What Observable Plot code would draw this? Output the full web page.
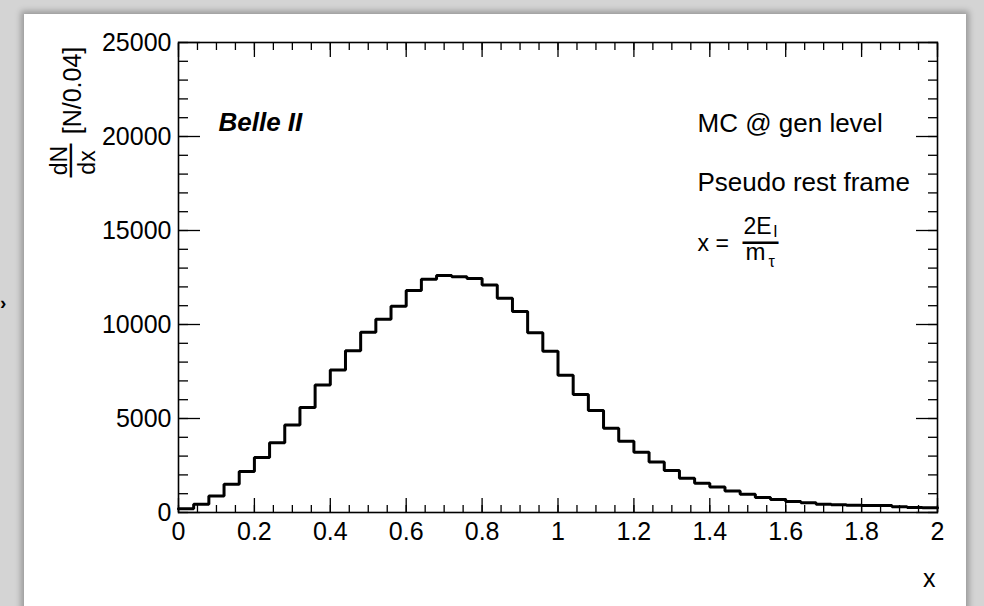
<!DOCTYPE html>
<html>
<head>
<meta charset="utf-8">
<script src="https://cdn.jsdelivr.net/npm/d3@7"></script>
<script src="https://cdn.jsdelivr.net/npm/@observablehq/plot@0.6"></script>
<style>
  html, body { margin: 0; padding: 0; width: 984px; height: 606px; overflow: hidden; background: #d4d4d4; }
  #card { position: absolute; left: 24px; top: 14px; width: 942px; height: 640px; background: #fff;
          box-shadow: 0 0 6px 3px rgba(0,0,0,0.28); }
  #chart { position: absolute; left: 0; top: 0; }
  #chev { position: absolute; left: 0px; top: 292px; font: bold 19px "Liberation Sans", Arial, sans-serif; color: #000; }
</style>
</head>
<body>
<div id="card"></div>
<div id="chev">›</div>
<div id="chart"></div>
<script>
// ---- data ----
const binLow = 0;          // histogram range start
const binWidth = 0.04;     // N/0.04
const counts = [195, 440, 880, 1500, 2180, 2930, 3710, 4660, 5590, 6780,
                7580, 8600, 9590, 10280, 10970, 11810, 12410, 12600, 12540, 12450,
                12100, 11390, 10690, 9560, 8580, 7300, 6270, 5430, 4480, 3790,
                3200, 2680, 2240, 1820, 1560, 1360, 1140, 970, 800, 690,
                590, 515, 445, 410, 390, 372, 372, 300, 260, 255];
const xMajorTicks = [0, 0.2, 0.4, 0.6, 0.8, 1, 1.2, 1.4, 1.6, 1.8, 2];
const xTickLabels = ["0", "0.2", "0.4", "0.6", "0.8", "1", "1.2", "1.4", "1.6", "1.8", "2"];
const yMajorTicks = [0, 5000, 10000, 15000, 20000, 25000];
const yTickLabels = ["0", "5000", "10000", "15000", "20000", "25000"];
const xMinorTicks = d3.range(0, 41).map(i => +(i * 0.05).toFixed(2));
const yMinorTicks = d3.range(0, 26).map(i => i * 1000);

// step points: left edge of each bin plus the right edge of the last bin
const steps = counts.map((c, i) => ({x: binLow + i * binWidth, y: c}));
steps.push({x: binLow + counts.length * binWidth, y: counts[counts.length - 1]});

const L = 178, T = 42, R = 937, B = 512;
const W = 984, H = 606;
const font = "'Liberation Sans', Arial, Helvetica, sans-serif";

function note(str, x, y, opts = {}) {
  return Plot.text([str], {
    frameAnchor: "top-left", text: d => d, dx: x - L, dy: y - T,
    textAnchor: "start", lineAnchor: "middle", fill: "black", ...opts
  });
}

const chart = Plot.plot({
  width: W, height: H,
  marginLeft: L, marginRight: W - R, marginTop: T, marginBottom: H - B,
  style: {fontFamily: font, fontSize: "25px", background: "transparent", color: "black", overflow: "visible"},
  x: {domain: [0, 2]},
  y: {domain: [0, 25000]},
  marks: [
    // histogram
    Plot.line(steps, {x: "x", y: "y", curve: "step-after", stroke: "black", strokeWidth: 3, strokeLinejoin: "miter"}),
    // inward ticks: left
    Plot.axisY(yMajorTicks, {anchor: "left", tickSize: 22, dx: 22, tickFormat: () => "", label: null, strokeWidth: 1.3}),
    Plot.axisY(yMinorTicks, {anchor: "left", tickSize: 10, dx: 10, tickFormat: () => "", label: null, strokeWidth: 1.3}),
    // right
    Plot.axisY(yMajorTicks, {anchor: "right", tickSize: 22, dx: -22, tickFormat: () => "", label: null, strokeWidth: 1.3}),
    Plot.axisY(yMinorTicks, {anchor: "right", tickSize: 10, dx: -10, tickFormat: () => "", label: null, strokeWidth: 1.3}),
    // bottom
    Plot.axisX(xMajorTicks, {anchor: "bottom", tickSize: 14, dy: -14, tickFormat: () => "", label: null, strokeWidth: 1.3}),
    Plot.axisX(xMinorTicks, {anchor: "bottom", tickSize: 7, dy: -7, tickFormat: () => "", label: null, strokeWidth: 1.3}),
    // top
    Plot.axisX(xMajorTicks, {anchor: "top", tickSize: 14, dy: 14, tickFormat: () => "", label: null, strokeWidth: 1.3}),
    Plot.axisX(xMinorTicks, {anchor: "top", tickSize: 7, dy: 7, tickFormat: () => "", label: null, strokeWidth: 1.3}),
    // tick labels
    Plot.axisY(yMajorTicks, {anchor: "left", tickSize: 0, tickPadding: 7, label: null, fontSize: 25,
      tickFormat: d => yTickLabels[yMajorTicks.indexOf(d)]}),
    Plot.axisX(xMajorTicks, {anchor: "bottom", tickSize: 0, tickPadding: 10, label: null, fontSize: 25,
      tickFormat: d => xTickLabels[xMajorTicks.indexOf(d)]}),
    Plot.frame({stroke: "black", strokeWidth: 1.6}),
    // axis titles
    Plot.text(["x"], {frameAnchor: "bottom-right", text: d => d, dy: 66.5, dx: -2, textAnchor: "end", lineAnchor: "middle", fontSize: 25}),
    note("[N/0.04]", 72.5, 90, {rotate: -90, textAnchor: "middle", fontSize: 25}),
    note("dN", 59.6, 160, {rotate: -90, textAnchor: "middle", fontSize: 23}),
    note("\u2014", 67.5, 160, {rotate: -90, textAnchor: "middle", fontSize: 34}),
    note("dx", 87.6, 162, {rotate: -90, textAnchor: "middle", fontSize: 23}),
    // annotations
    note("Belle II", 218, 122, {fontSize: 26, fontWeight: "bold", fontStyle: "italic"}),
    note("MC @ gen level", 697, 123.5, {fontSize: 26}),
    note("Pseudo rest frame", 697, 182.5, {fontSize: 26}),
    note("x =", 697, 243.5, {fontSize: 23}),
    note("2E", 743, 226.3, {fontSize: 23}),
    note("l", 773, 231, {fontSize: 17}),
    note("\u2014", 742, 240.2, {fontSize: 36}),
    note("m", 745, 252, {fontSize: 24}),
    note("\u03c4", 768, 261, {fontSize: 16})
  ]
});
document.getElementById("chart").appendChild(chart);
</script>
</body>
</html>
